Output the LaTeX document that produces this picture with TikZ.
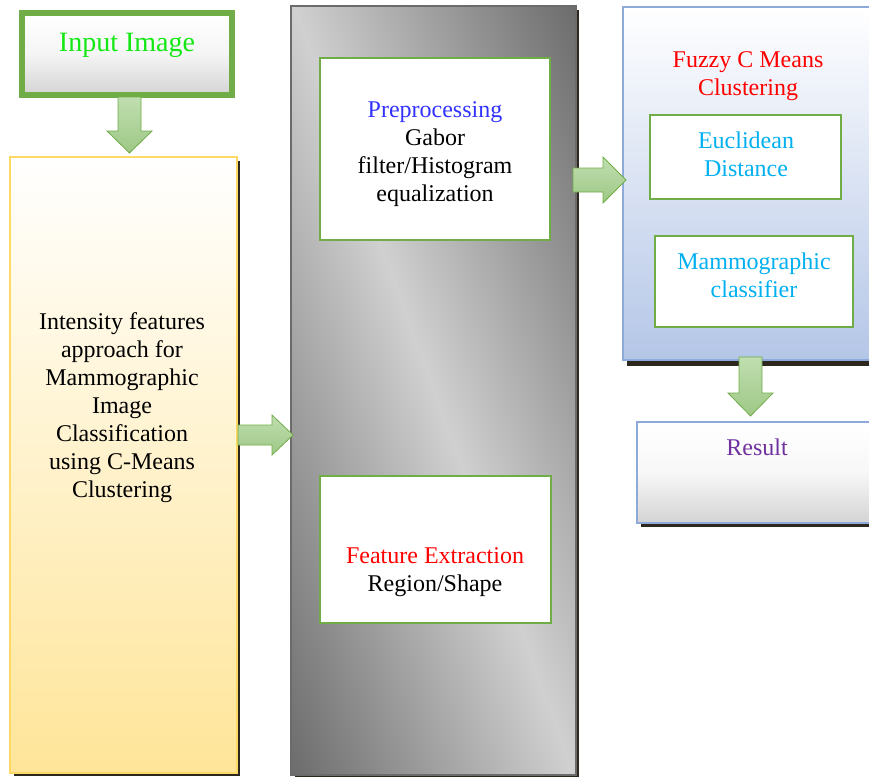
\documentclass[tikz,border=0pt]{standalone}
\usepackage{fontspec}
\setmainfont{Liberation Serif}
\definecolor{igreen}{RGB}{20,232,20}
\definecolor{gborder}{RGB}{112,173,71}
\definecolor{ylborder}{RGB}{255,217,102}
\definecolor{ylfill}{RGB}{255,229,153}
\definecolor{blborder}{RGB}{142,170,219}
\definecolor{blfill}{RGB}{180,198,231}
\definecolor{grdark}{RGB}{102,102,102}
\definecolor{grlight}{RGB}{208,208,208}
\definecolor{shadowc}{RGB}{45,40,30}
\definecolor{ppblue}{RGB}{51,51,255}
\definecolor{ecyan}{RGB}{0,176,240}
\definecolor{rpurple}{RGB}{112,48,160}
\definecolor{arrtop}{RGB}{192,222,176}
\definecolor{arrbot}{RGB}{158,200,134}
\pgfdeclarehorizontalshading{grayband}{100bp}{color(0bp)=(grdark); color(16bp)=(grdark); color(50bp)=(grlight); color(84bp)=(grdark); color(100bp)=(grdark)}
\begin{document}
\begin{tikzpicture}[x=1pt,y=-1pt,
  every node/.style={inner sep=0pt, outer sep=0pt},
  txt/.style={font=\fontsize{24}{28}\selectfont, align=center},
  inbox/.style={draw=gborder, line width=2pt, fill=white, anchor=north west},
  blockarrow/.style={draw=gborder, line width=0.8pt, top color=arrtop, bottom color=arrbot},
  shadowbar/.style={fill=shadowc}
]
\useasboundingbox (0,0) rectangle (869,777);
\clip (0,0) rectangle (869,777);

% shadows
\fill[shadowbar] (14,161) rectangle (240,776);
\fill[shadowbar] (295,10) rectangle (579,777);
\fill[shadowbar] (627,12) rectangle (880,366);
\fill[shadowbar] (641,426) rectangle (880,527);

% input image
\node[draw=gborder, line width=6pt, top color=white, bottom color=black!17, middle color=white!96!black,
      minimum width=210pt, minimum height=82pt, anchor=north west] (input) at (22,13) {};
\node[font=\fontsize{28}{32}\selectfont, text=igreen] (inputtxt) at (127,45) {Input Image};

% yellow box
\node[draw=ylborder, line width=2pt, top color=white, bottom color=ylfill,
      minimum width=227pt, minimum height=616pt, anchor=north west] (intensity) at (10,157) {};
\node[txt] (intensitytxt) at (122,408) {Intensity features\\approach for\\Mammographic\\Image\\Classification\\using C-Means\\Clustering};

% gray box
\node[draw=black!58, line width=2pt, shading=grayband, shading angle=20,
      minimum width=285pt, minimum height=769pt, anchor=north west] (stages) at (291,6) {};
\node[inbox, minimum width=230pt, minimum height=182pt] (prep) at (320,58) {};
\node[txt] (preptxt) at (435,154) {\textcolor{ppblue}{Preprocessing}\\Gabor\\filter/Histogram\\equalization};
\node[inbox, minimum width=231pt, minimum height=147pt] (feat) at (320,476) {};
\node[txt] (feattxt) at (435,572) {\textcolor{red}{Feature Extraction}\\Region/Shape};

% blue box
\node[draw=blborder, line width=2pt, top color=white, bottom color=blfill,
      minimum width=257pt, minimum height=353pt, anchor=north west] (fuzzy) at (623,7) {};
\node[txt, text=red] (fuzzytxt) at (748,76) {Fuzzy C Means\\Clustering};
\node[inbox, minimum width=191pt, minimum height=84pt] (eucl) at (650,115) {};
\node[txt, text=ecyan] (eucltxt) at (746,154) {Euclidean\\Distance};
\node[inbox, minimum width=198pt, minimum height=91pt] (mammo) at (655,236) {};
\node[txt, text=ecyan] (mammotxt) at (754,275) {Mammographic\\classifier};

% result
\node[draw=blborder, line width=2pt, top color=white, bottom color=black!17, middle color=white!97!black,
      minimum width=243pt, minimum height=101pt, anchor=north west] (result) at (637,422) {};
\node[txt, text=rpurple] (resulttxt) at (757,447) {Result};

% block arrows
\draw[blockarrow] (118,97) -- (141,97) -- (141,131) -- (152,131) -- (129.5,153) -- (107,131) -- (118,131) -- cycle;
\draw[blockarrow] (238,425) -- (272,425) -- (272,415) -- (293,435) -- (272,455) -- (272,445) -- (238,445) -- cycle;
\draw[blockarrow] (573,168) -- (603,168) -- (603,157) -- (626,180) -- (603,203) -- (603,192) -- (573,192) -- cycle;
\draw[blockarrow] (739,357) -- (762,357) -- (762,393) -- (773,393) -- (750.5,416) -- (728,393) -- (739,393) -- cycle;
\end{tikzpicture}
\end{document}
